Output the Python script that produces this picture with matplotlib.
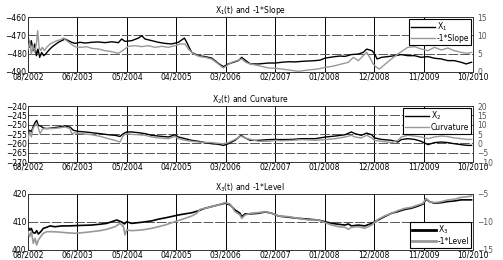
import matplotlib
matplotlib.use("Agg")
import matplotlib.pyplot as plt

tick_labels = ["08/2002", "06/2003", "05/2004", "04/2005", "03/2006",
               "02/2007", "01/2008", "12/2008", "11/2009", "10/2010"]

# ---- Panel 1: X1 (left) and -1*Slope (right)
x1_t = [0, .034, .067, .101, .135, .169, .202, .236, .276, .317, .357, .411, .479, .546, .614, .681,
        .749, .816, .883, .951, 1.052, 1.153, 1.288, 1.423, 1.558, 1.693, 1.827, 1.895, 1.962, 2.097,
        2.232, 2.299, 2.367, 2.502, 2.637, 2.771, 2.906, 3.041, 3.109, 3.163, 3.210, 3.257, 3.311,
        3.378, 3.446, 3.581, 3.715, 3.850, 3.951, 4.053, 4.154, 4.255, 4.322, 4.403, 4.498,
        4.66, 4.87, 5.00, 5.13, 5.27, 5.40, 5.54, 5.67, 5.81, 5.91, 6.01, 6.11, 6.21, 6.31, 6.41,
        6.54, 6.68, 6.78, 6.85, 6.91, 6.96, 7.01, 7.06, 7.15, 7.28, 7.42, 7.55, 7.68, 7.82, 7.95,
        8.09, 8.22, 8.36, 8.49, 8.62, 8.76, 8.86, 8.97]
x1_v = [-470.2, -476.5, -472.9, -478.4, -474.7, -481.1, -477.5, -482.0, -479.3, -481.1, -480.2,
        -478.4, -476.5, -475.1, -473.8, -472.9, -472.0, -472.9, -473.8, -474.4, -473.8, -474.2,
        -473.8, -473.6, -474.0, -473.5, -474.0, -472.0, -473.3, -472.9, -471.5, -470.2, -472.0,
        -472.9, -473.8, -474.4, -474.7, -473.8, -472.5, -471.5, -473.8, -476.5, -479.3, -480.2,
        -481.1, -481.6, -482.4, -485.3, -487.1, -485.6, -484.7, -483.8, -482.0, -483.8, -485.6,
        -485.6, -485.1, -485.1, -484.7, -484.4, -484.5, -484.2, -484.0, -483.8, -483.5, -482.4,
        -482.0, -481.6, -481.3, -481.5, -480.5, -480.2, -479.3, -477.5, -478.0, -478.4, -480.2,
        -482.9, -482.0, -481.6, -481.1, -480.5, -481.1, -481.1, -482.0, -481.6, -482.5, -482.9,
        -483.8, -483.8, -484.7, -485.6, -484.7]

slope_t = [0, .034, .067, .101, .135, .169, .196, .223, .256, .29, .33, .378, .445, .512, .58, .647,
           .715, .782, .85, .917, .985, 1.086, 1.187, 1.288, 1.423, 1.558, 1.693, 1.827, 1.929,
           2.03, 2.165, 2.299, 2.434, 2.569, 2.704, 2.839, 2.974, 3.075, 3.176, 3.243, 3.311,
           3.378, 3.479, 3.581, 3.715, 3.85, 3.951, 4.019, 4.12, 4.221, 4.322, 4.403, 4.498,
           4.66, 4.87, 5.0, 5.13, 5.27, 5.47, 5.67, 5.87, 6.01, 6.11, 6.21, 6.34, 6.48, 6.58,
           6.68, 6.78, 6.85, 6.91, 6.98, 7.05, 7.11, 7.21, 7.35, 7.48, 7.58, 7.68, 7.82, 7.95,
           8.09, 8.22, 8.36, 8.49, 8.62, 8.76, 8.89, 8.97]
slope_v = [6.27, 8.09, 4.91, 7.18, 5.36, 7.64, 11.27, 6.73, 5.82, 6.73, 5.82, 6.73, 7.64, 8.09,
           8.55, 8.73, 9.27, 8.55, 7.82, 7.18, 6.73, 6.73, 6.91, 6.45, 6.27, 5.82, 5.55, 5.09, 6.0,
           7.0, 7.18, 6.91, 7.18, 6.73, 7.0, 6.73, 7.18, 7.64, 7.64, 6.27, 5.36, 4.73, 4.18, 4.0,
           3.55, 2.18, 1.09, 1.73, 2.64, 3.09, 3.55, 2.64, 2.18,
           1.73, 1.09, 1.0, 0.82, 0.55, 0.18, 0.55, 0.82, 1.27, 1.45, 1.73, 2.18, 2.64, 4.0,
           3.09, 4.45, 5.36, 4.0, 2.18, 1.27, 0.82, 2.0, 3.55, 4.91, 5.82, 6.73, 6.91, 6.27,
           5.82, 6.73, 6.0, 6.55, 5.82, 5.36, 5.09, 5.36]

# ---- Panel 2: X2 (left) and Curvature (right)
x2_t = [0, .034, .067, .101, .142, .175, .209, .256, .31, .378, .479, .614, .749, .85, .917,
        1.018, 1.153, 1.288, 1.456, 1.625, 1.76, 1.861, 1.929, 1.996, 2.097, 2.232, 2.367, 2.502,
        2.637, 2.839, 2.974, 3.041, 3.176, 3.311, 3.446, 3.581, 3.715, 3.85, 3.951, 4.053, 4.187,
        4.309, 4.39, 4.498,
        4.66, 4.87, 5.0, 5.13, 5.34, 5.54, 5.81, 6.02, 6.21, 6.41, 6.54, 6.61, 6.74, 6.85, 6.95,
        7.01, 7.15, 7.35, 7.48, 7.55, 7.68, 7.82, 7.95, 8.09, 8.22, 8.36, 8.49, 8.62, 8.76, 8.89,
        8.97]
x2_v = [-254.8, -253.0, -253.9, -251.3, -248.9, -247.7, -250.4, -250.7, -251.8, -252.1, -251.8,
        -251.3, -250.7, -251.3, -253.0, -253.6, -253.9, -254.3, -254.8, -255.4, -255.7, -256.3,
        -254.8, -253.9, -253.9, -254.3, -254.8, -255.7, -256.1, -256.6, -255.4, -256.6, -257.5,
        -258.4, -258.9, -259.6, -260.2, -260.5, -261.1, -260.2, -258.4, -255.7, -257.1, -258.4,
        -258.4, -258.0, -257.9, -258.0, -257.9, -257.5, -257.5, -256.6, -256.1, -255.4, -253.9,
        -254.8, -255.7, -254.5, -255.4, -257.1, -257.9, -258.4, -259.3, -258.0, -257.5, -257.9,
        -258.9, -260.7, -259.6, -259.3, -259.6, -260.2, -260.7, -261.1, -261.1]

curv_t = [0, .034, .067, .101, .142, .175, .209, .243, .29, .344, .479, .614, .749, .85, .883,
          .951, 1.086, 1.288, 1.456, 1.625, 1.76, 1.861, 1.929, 1.996, 2.097, 2.232, 2.367, 2.502,
          2.637, 2.839, 2.974, 3.041, 3.176, 3.311, 3.446, 3.581, 3.715, 3.85, 3.951, 4.053, 4.187,
          4.309, 4.39, 4.498,
          4.66, 4.87, 5.0, 5.13, 5.34, 5.54, 5.81, 6.02, 6.21, 6.41, 6.54, 6.61, 6.74, 6.85, 6.95,
          7.01, 7.15, 7.35, 7.48, 7.55, 7.68, 7.82, 7.95, 8.09, 8.22, 8.36, 8.49, 8.62, 8.76, 8.89,
          8.97]
curv_v = [2.5, 6.1, 3.4, 7.9, 9.6, 10.5, 8.2, 5.2, 7.5, 7.9, 7.9, 8.2, 8.75, 7.9, 5.2, 5.7, 5.2,
          4.6, 3.75, 2.5, 1.6, 0.7, 4.3, 5.2, 4.8, 4.6, 4.3, 3.4, 2.9, 2.5, 3.75, 2.5, 1.6, 1.1, 0.7,
          0.5, 0.4, 0.0, -0.2, 0.4, 2.1, 3.9, 2.9, 2.1,
          1.1, 1.1, 1.6, 1.4, 1.6, 2.0, 1.6, 2.0, 2.5, 3.4, 4.3, 3.4, 2.9, 4.3, 2.9, 1.6, 1.1, 0.4,
          1.6, 3.4, 4.3, 3.9, 3.4, 2.5, 3.4, 3.9, 3.6, 2.9, 2.5, 2.1, 2.1]

# ---- Panel 3: X3 (left) and -1*Level (right)
x3_t = [0, .034, .067, .101, .142, .175, .209, .256, .31, .378, .445, .546, .681, .816, .951,
        1.119, 1.288, 1.456, 1.591, 1.693, 1.794, 1.895, 1.949, 1.996, 2.097, 2.299, 2.502, 2.637,
        2.839, 3.041, 3.176, 3.311, 3.446, 3.581, 3.715, 3.85, 3.985, 4.086, 4.187, 4.288, 4.322,
        4.39, 4.498,
        4.66, 4.8, 4.93, 5.07, 5.27, 5.47, 5.67, 5.87, 6.01, 6.14, 6.28, 6.41, 6.48, 6.54, 6.68,
        6.81, 6.95, 7.08, 7.21, 7.35, 7.48, 7.62, 7.75, 7.89, 7.99, 8.05, 8.12, 8.22, 8.36, 8.49,
        8.62, 8.76, 8.89, 8.97]
x3_v = [408.3, 407.1, 407.7, 406.2, 406.0, 406.9, 405.7, 406.5, 407.7, 408.1, 408.6, 408.3, 408.6,
        408.6, 408.7, 408.8, 408.9, 409.2, 409.5, 410.1, 410.7, 410.0, 409.3, 410.1, 409.5, 409.9,
        410.4, 411.0, 411.7, 412.5, 412.9, 413.3, 414.0, 414.9, 415.5, 416.1, 416.7, 416.1, 414.3,
        413.1, 411.9, 412.9, 412.9,
        413.1, 413.6, 413.1, 412.1, 411.7, 411.3, 411.0, 410.7, 410.1, 409.5, 409.2, 408.9, 409.3,
        408.6, 408.9, 408.6, 409.5, 410.7, 411.9, 413.1, 413.7, 414.5, 414.9, 415.7, 416.4, 418.1,
        417.3, 416.7, 416.9, 417.3, 417.5, 417.9, 417.9, 417.9]

level_t = [0, .034, .067, .108, .142, .175, .209, .256, .31, .378, .479, .614, .749, .951, 1.119,
           1.288, 1.456, 1.591, 1.76, 1.861, 1.929, 1.962, 1.996, 2.097, 2.299, 2.502, 2.771,
           2.974, 3.176, 3.311, 3.412, 3.48, 3.581, 3.715, 3.85, 3.985, 4.086, 4.187, 4.288, 4.322,
           4.39, 4.498,
           4.66, 4.8, 4.93, 5.07, 5.27, 5.47, 5.67, 5.87, 6.01, 6.14, 6.28, 6.41, 6.48, 6.54, 6.68,
           6.81, 6.95, 7.08, 7.21, 7.35, 7.48, 7.62, 7.75, 7.89, 7.99, 8.05, 8.12, 8.22, 8.36,
           8.49, 8.62, 8.76, 8.89, 8.97]
level_v = [-11.73, -12.62, -11.73, -13.81, -12.92, -14.11, -13.21, -12.62, -12.02, -11.73, -11.73,
           -11.79, -11.90, -12.02, -11.90, -11.73, -11.55, -11.31, -10.83, -10.24, -10.83, -12.32,
           -11.43, -11.55, -11.43, -11.13, -10.54, -9.94, -9.35, -8.93, -8.45, -7.74, -7.56,
           -7.26, -6.96, -6.55, -6.79, -8.15, -8.75, -9.35, -8.75, -8.45,
           -8.33, -8.15, -8.45, -8.93, -9.05, -9.35, -9.64, -9.64, -10.12, -10.54, -10.83, -10.95,
           -11.31, -10.95, -10.83, -11.13, -10.54, -9.52, -8.93, -8.45, -7.98, -7.56, -7.38,
           -6.96, -6.67, -5.77, -6.37, -6.55, -6.37, -6.07, -5.95, -5.60, -5.48, -5.36]

panels = [
    dict(title=r"X$_1$(t) and -1*Slope", lt=x1_t, lv=x1_v, rt=slope_t, rv=slope_v,
         lname=r"X$_1$", rname="-1*Slope", ylim=(-490, -460), yt=[-490, -480, -470, -460],
         rlim=(0, 15), rt_ticks=[0, 5, 10, 15], loc="upper right", lw=1.0, llw=1.0,
         pos=[0.0557, 0.7231, 0.8847, 0.2115]),
    dict(title=r"X$_2$(t) and Curvature", lt=x2_t, lv=x2_v, rt=curv_t, rv=curv_v,
         lname=r"X$_2$", rname="Curvature", ylim=(-270, -240),
         yt=[-270, -265, -260, -255, -250, -245, -240],
         rlim=(-10, 20), rt_ticks=[-10, -5, 0, 5, 10, 15, 20], loc="upper right", lw=1.0, llw=1.0,
         pos=[0.0557, 0.3769, 0.8847, 0.2154]),
    dict(title=r"X$_3$(t) and -1*Level", lt=x3_t, lv=x3_v, rt=level_t, rv=level_v,
         lname=r"X$_3$", rname="-1*Level", ylim=(400, 420), yt=[400, 410, 420],
         rlim=(-15, -5), rt_ticks=[-15, -10, -5], loc="lower right", lw=1.2, llw=2.0,
         pos=[0.0557, 0.0385, 0.8847, 0.2154]),
]

fig = plt.figure(figsize=(5.03, 2.6), dpi=100)
fs = 5.5
for p in panels:
    ax = fig.add_axes(p["pos"])
    ax.set_xlim(0, 9)
    ax.set_ylim(*p["ylim"])
    ax.set_yticks(p["yt"])
    ax.set_xticks(range(len(tick_labels)))
    ax.set_xticklabels(tick_labels)
    ax.tick_params(axis="both", length=0, labelsize=fs, pad=1)
    ax.tick_params(axis="x", pad=0.5)
    for s in ax.spines.values():
        s.set_linewidth(0.7)
        s.set_color("#333333")
    ax.xaxis.grid(True, color="black", linewidth=0.7)
    ax.yaxis.grid(True, color="#555555", linewidth=0.7, linestyle=(0, (10, 2)))
    ax.set_axisbelow(True)
    h1, = ax.plot(p["lt"], p["lv"], color="black", linewidth=p["lw"])
    ax2 = ax.twinx()
    ax2.set_ylim(*p["rlim"])
    ax2.set_yticks(p["rt_ticks"])
    ax2.tick_params(axis="y", length=0, labelsize=fs, pad=3, labelcolor="#555555")
    for s in ax2.spines.values():
        s.set_visible(False)
    h2, = ax2.plot(p["rt"], p["rv"], color="#999999", linewidth=p["lw"])
    leg = ax2.legend([h1, h2], [p["lname"], p["rname"]], loc=p["loc"], fontsize=fs,
                     frameon=True, fancybox=False, framealpha=1, edgecolor="black",
                     handlelength=3.2, handletextpad=0.2, borderpad=0.2, labelspacing=0.1,
                     borderaxespad=0.3)
    for ln in leg.get_lines():
        ln.set_linewidth(p["llw"])
    leg.get_frame().set_linewidth(0.8)
    ax.set_title(p["title"], fontsize=fs, pad=2)

fig.savefig("out.png", dpi=100)
